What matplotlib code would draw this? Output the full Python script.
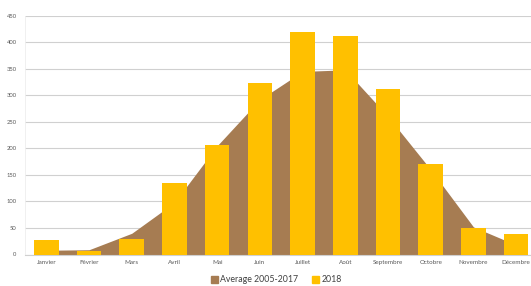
import numpy as np
import matplotlib
matplotlib.use("Agg")
import matplotlib.pyplot as plt
from matplotlib.patches import Patch

months = ["Janvier", "Février", "Mars", "Avril", "Mai", "Juin", "Juillet",
          "Août", "Septembre", "Octobre", "Novembre", "Décembre"]
average_2005_2017 = [8, 9, 40, 98, 205, 292, 345, 348, 260, 160, 52, 18]
values_2018 = [28, 7, 30, 135, 206, 324, 420, 412, 311, 171, 49, 38]

plt.rcParams["font.family"] = ["Lato", "DejaVu Sans"]

fig = plt.figure(figsize=(5.31, 2.86), dpi=100)
# axes runs a little past the right edge, as in the cropped original
ax = fig.add_axes([25 / 531, 31.5 / 286, 512.5 / 531, 238.8 / 286])

x = np.arange(len(months))
ax.fill_between(x, average_2005_2017, color="#A67C52", linewidth=0, zorder=2)
ax.bar(x, values_2018, width=0.575, color="#FFC000", zorder=3)

ax.set_xlim(-0.5, 11.5)
ax.set_ylim(0, 450)
ax.set_yticks(np.arange(0, 451, 50))
ax.set_xticks(x, months)
ax.grid(axis="y", color="#D0D0D0", linewidth=0.8, zorder=1)
ax.set_axisbelow(True)
for side in ["top", "right"]:
    ax.spines[side].set_visible(False)
ax.spines["left"].set_color("#EEEEEE")
ax.spines["left"].set_linewidth(0.6)
ax.spines["bottom"].set_color("#D0D0D0")
ax.spines["bottom"].set_linewidth(0.8)
ax.tick_params(axis="both", length=0, colors="#595959")
ax.tick_params(axis="y", labelsize=4.2, pad=6)
ax.tick_params(axis="x", labelsize=4.5, pad=4)

handles = [Patch(color="#A67C52", label="Average 2005-2017"),
           Patch(color="#FFC000", label="2018")]
fig.legend(handles=handles, loc="center", ncol=2, frameon=False,
           bbox_to_anchor=(276 / 531, 1 - 280 / 286), fontsize=6.3,
           handlelength=0.8, handleheight=0.8, handletextpad=0.3,
           columnspacing=1.5, labelcolor="#404040")

fig.savefig("out.png", dpi=100, facecolor="white")
